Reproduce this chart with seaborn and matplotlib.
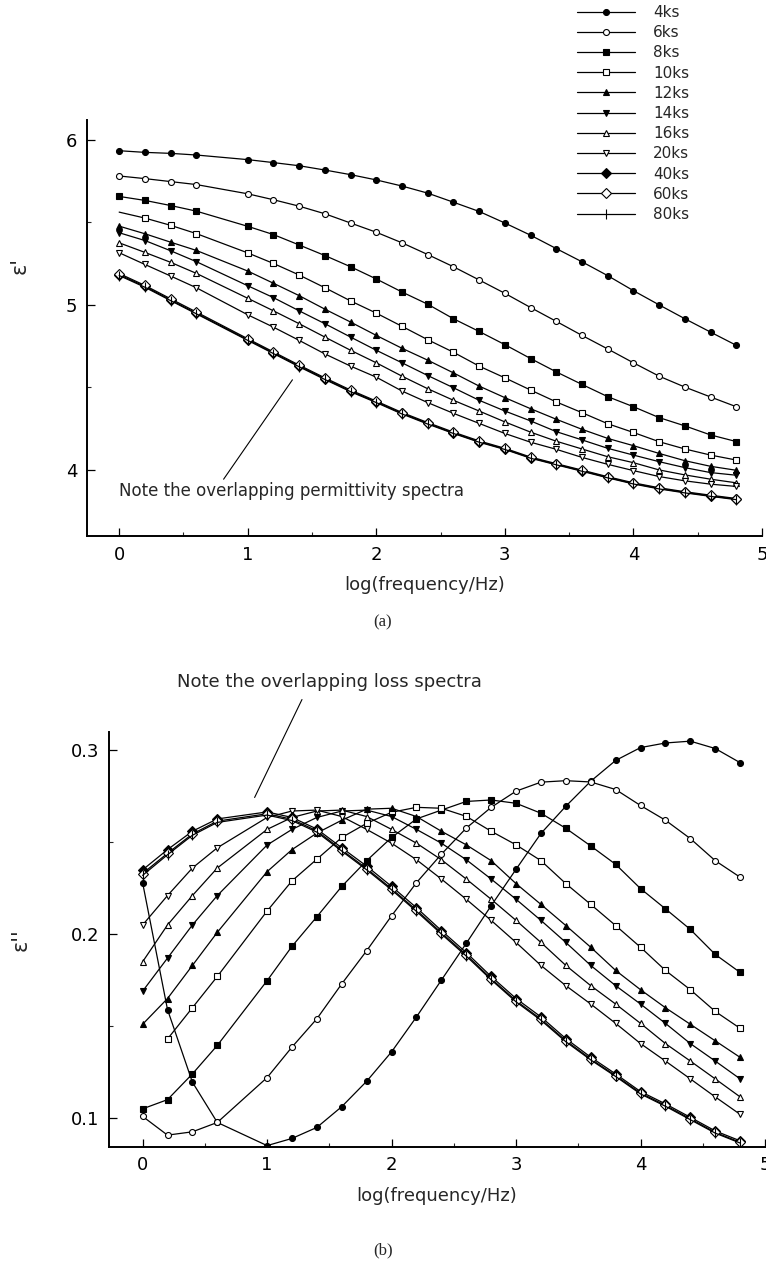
import seaborn as sns
import matplotlib.pyplot as plt
from matplotlib.ticker import MultipleLocator

# log(frequency/Hz) grid of the measurements (no point at 0.8)
logf = [0, 0.2, 0.4, 0.6, 1.0, 1.2, 1.4, 1.6, 1.8, 2.0, 2.2, 2.4,
        2.6, 2.8, 3.0, 3.2, 3.4, 3.6, 3.8, 4.0, 4.2, 4.4, 4.6, 4.8]
labels = ['4ks', '6ks', '8ks', '10ks', '12ks', '14ks', '16ks', '20ks', '40ks', '60ks', '80ks']

# permittivity eps'
eps1_4ks = [5.934, 5.924, 5.918, 5.908, 5.880, 5.862, 5.843, 5.817, 5.789, 5.757, 5.720, 5.677,
            5.622, 5.566, 5.496, 5.422, 5.341, 5.261, 5.177, 5.086, 5.000, 4.916, 4.835, 4.755]
eps1_6ks = [5.781, 5.765, 5.747, 5.729, 5.673, 5.637, 5.598, 5.552, 5.496, 5.440, 5.376, 5.305,
            5.231, 5.151, 5.070, 4.984, 4.900, 4.815, 4.733, 4.649, 4.568, 4.502, 4.442, 4.383]
eps1_8ks = [5.657, 5.633, 5.602, 5.568, 5.476, 5.426, 5.363, 5.299, 5.231, 5.157, 5.078, 5.004,
            4.916, 4.839, 4.759, 4.675, 4.594, 4.518, 4.444, 4.383, 4.317, 4.267, 4.212, 4.172]
eps1_10ks = [5.562, 5.526, 5.482, 5.432, 5.315, 5.251, 5.181, 5.104, 5.024, 4.950, 4.870, 4.789,
             4.713, 4.629, 4.558, 4.484, 4.412, 4.347, 4.280, 4.227, 4.171, 4.127, 4.090, 4.060]
eps1_12ks = [5.477, 5.431, 5.380, 5.330, 5.205, 5.131, 5.056, 4.974, 4.896, 4.815, 4.737, 4.665,
             4.588, 4.508, 4.438, 4.371, 4.307, 4.246, 4.191, 4.147, 4.100, 4.056, 4.022, 3.998]
eps1_14ks = [5.437, 5.390, 5.328, 5.262, 5.116, 5.044, 4.964, 4.886, 4.805, 4.725, 4.649, 4.572,
             4.498, 4.422, 4.357, 4.297, 4.232, 4.182, 4.131, 4.090, 4.050, 4.014, 3.984, 3.968]
eps1_16ks = [5.376, 5.318, 5.258, 5.191, 5.040, 4.964, 4.886, 4.805, 4.725, 4.649, 4.568, 4.492,
             4.422, 4.357, 4.291, 4.229, 4.174, 4.127, 4.080, 4.044, 4.000, 3.970, 3.944, 3.922]
eps1_20ks = [5.316, 5.245, 5.175, 5.104, 4.940, 4.865, 4.785, 4.703, 4.629, 4.562, 4.478, 4.408,
             4.343, 4.282, 4.221, 4.168, 4.125, 4.076, 4.034, 3.996, 3.960, 3.934, 3.914, 3.900]
eps1_40ks = [5.183, 5.112, 5.030, 4.950, 4.789, 4.709, 4.629, 4.552, 4.478, 4.412, 4.343, 4.282,
             4.224, 4.171, 4.127, 4.074, 4.034, 3.995, 3.955, 3.918, 3.888, 3.864, 3.843, 3.823]
eps1_60ks = [5.190, 5.118, 5.037, 4.957, 4.795, 4.715, 4.635, 4.558, 4.484, 4.417, 4.348, 4.287,
             4.229, 4.176, 4.131, 4.078, 4.038, 3.999, 3.959, 3.922, 3.892, 3.868, 3.847, 3.827]
eps1_80ks = [5.178, 5.107, 5.026, 4.946, 4.785, 4.705, 4.625, 4.548, 4.474, 4.408, 4.339, 4.278,
             4.221, 4.168, 4.124, 4.071, 4.031, 3.992, 3.952, 3.915, 3.885, 3.861, 3.840, 3.820]

# loss eps''  (10ks has no point at logf = 0)
eps2_4ks = [0.228, 0.159, 0.1195, 0.0976, 0.0850, 0.0889, 0.0949, 0.1062, 0.120, 0.136, 0.155, 0.175,
            0.195, 0.2155, 0.2353, 0.2548, 0.2696, 0.2832, 0.2945, 0.3015, 0.304, 0.305, 0.301, 0.2933]
eps2_6ks = [0.1009, 0.0907, 0.0925, 0.0976, 0.122, 0.1386, 0.154, 0.173, 0.191, 0.210, 0.228, 0.2435,
            0.2577, 0.269, 0.2778, 0.2827, 0.2835, 0.2828, 0.2787, 0.270, 0.262, 0.252, 0.240, 0.231]
eps2_8ks = [0.105, 0.110, 0.124, 0.1395, 0.1747, 0.1934, 0.2095, 0.226, 0.240, 0.2526, 0.2627, 0.2675,
            0.2722, 0.273, 0.2712, 0.2658, 0.2576, 0.248, 0.238, 0.2248, 0.2138, 0.2026, 0.189, 0.1792]
eps2_10ks = [0.143, 0.160, 0.177, 0.2126, 0.229, 0.2408, 0.2526, 0.2603, 0.2663, 0.269, 0.2685,
             0.2641, 0.256, 0.2486, 0.240, 0.2275, 0.2162, 0.2047, 0.1929, 0.1803, 0.1698, 0.158, 0.1488]
eps2_12ks = [0.151, 0.165, 0.183, 0.201, 0.234, 0.246, 0.255, 0.262, 0.268, 0.2685, 0.264, 0.256,
             0.2486, 0.240, 0.2275, 0.2162, 0.2047, 0.1929, 0.1803, 0.1698, 0.160, 0.151, 0.142, 0.133]
eps2_14ks = [0.169, 0.187, 0.205, 0.221, 0.2485, 0.257, 0.2635, 0.267, 0.2675, 0.264, 0.257, 0.2495,
             0.2405, 0.230, 0.219, 0.2075, 0.1955, 0.183, 0.172, 0.162, 0.1515, 0.1405, 0.131, 0.1213]
eps2_16ks = [0.185, 0.205, 0.221, 0.236, 0.257, 0.2635, 0.267, 0.2675, 0.264, 0.257, 0.2495, 0.2405,
             0.230, 0.219, 0.2075, 0.1955, 0.183, 0.172, 0.162, 0.1515, 0.1405, 0.131, 0.1213, 0.1115]
eps2_20ks = [0.205, 0.221, 0.236, 0.247, 0.2635, 0.267, 0.2675, 0.264, 0.257, 0.2495, 0.2405, 0.230,
             0.219, 0.2075, 0.1955, 0.183, 0.172, 0.162, 0.1515, 0.1405, 0.131, 0.1213, 0.1115, 0.102]
eps2_40ks = [0.235, 0.246, 0.256, 0.2627, 0.2665, 0.2635, 0.2572, 0.247, 0.237, 0.226, 0.2144, 0.202,
             0.190, 0.177, 0.165, 0.155, 0.1432, 0.1331, 0.124, 0.1144, 0.1077, 0.1004, 0.093, 0.0876]
eps2_60ks = [0.233, 0.244, 0.2545, 0.2615, 0.2655, 0.2625, 0.2562, 0.2458, 0.2357, 0.2247, 0.2131, 0.2008,
             0.1888, 0.1758, 0.1638, 0.1538, 0.1421, 0.1321, 0.1231, 0.1136, 0.1069, 0.0996, 0.0922, 0.0868]
eps2_80ks = [0.232, 0.2432, 0.2538, 0.2608, 0.2648, 0.2618, 0.2555, 0.2452, 0.235, 0.2241, 0.2124, 0.2001,
             0.1881, 0.1752, 0.1632, 0.1532, 0.1415, 0.1316, 0.1226, 0.1131, 0.1064, 0.0991, 0.0918, 0.0864]

eps1 = [eps1_4ks, eps1_6ks, eps1_8ks, eps1_10ks, eps1_12ks, eps1_14ks,
        eps1_16ks, eps1_20ks, eps1_40ks, eps1_60ks, eps1_80ks]
eps2 = [eps2_4ks, eps2_6ks, eps2_8ks, eps2_10ks, eps2_12ks, eps2_14ks,
        eps2_16ks, eps2_20ks, eps2_40ks, eps2_60ks, eps2_80ks]

markers = ['o', 'o', 's', 's', '^', 'v', '^', 'v', 'D', 'D', '|']
filled = [True, False, True, False, True, True, False, False, True, False, True]
msize = [4.3, 4.3, 4.3, 4.3, 4.8, 4.8, 4.8, 4.8, 5.2, 5.2, 7]

sns.set_style('ticks')
plt.rcParams['font.family'] = ['DejaVu Sans']

fig = plt.figure(figsize=(7.66, 12.62), dpi=100)
ax1 = fig.add_axes([0.1136, 0.5753, 0.8812, 0.3296])
ax2 = fig.add_axes([0.1423, 0.0915, 0.8564, 0.3285])


def draw(ax, series, top):
    for i, y in enumerate(series):
        x = logf[len(logf) - len(y):]
        kw = {}
        if top and labels[i] == '10ks':
            kw['markevery'] = list(range(1, len(y)))
        sns.lineplot(x=x, y=y, ax=ax, color='black', lw=0.9,
                     marker=markers[i], markersize=msize[i],
                     markerfacecolor='black' if filled[i] else 'white',
                     markeredgecolor='black', markeredgewidth=0.8,
                     label=labels[i], legend=False, **kw)


draw(ax1, eps1, True)
draw(ax2, eps2, False)

for ax in (ax1, ax2):
    sns.despine(ax=ax)
    for s in ('left', 'bottom'):
        ax.spines[s].set_linewidth(1.4)
        ax.spines[s].set_color('black')
    ax.set_xlim(-0.25, 5.0)
    ax.xaxis.set_major_locator(MultipleLocator(1))
    ax.xaxis.set_minor_locator(MultipleLocator(0.5))
    ax.tick_params(which='major', direction='in', length=6, width=0.9,
                   labelsize=13, pad=7, colors='black')
    ax.tick_params(which='minor', direction='in', length=3, width=0.8)
    ax.set_xlabel('log(frequency/Hz)', fontsize=13, labelpad=9)

ax1.set_ylim(3.6, 6.12)
ax1.yaxis.set_major_locator(MultipleLocator(1))
ax1.yaxis.set_minor_locator(MultipleLocator(0.5))
ax1.set_ylabel("ε'", fontsize=15)
ax1.yaxis.set_label_coords(-0.085, 0.65)

ax2.set_xlim(-0.27, 5.0)
ax2.set_ylim(0.0845, 0.31)
ax2.yaxis.set_major_locator(MultipleLocator(0.1))
ax2.yaxis.set_minor_locator(MultipleLocator(0.05))
ax2.set_ylabel("ε''", fontsize=15)
ax2.yaxis.set_label_coords(-0.12, 0.5)

# annotations
ax1.text(0.0, 3.87, 'Note the overlapping permittivity spectra', fontsize=12, va='center')
ax1.annotate('', xy=(1.36, 4.56), xytext=(0.8, 3.93),
             arrowprops=dict(arrowstyle='-', lw=0.8, color='black'))
ax2.text(0.28, 0.337, 'Note the overlapping loss spectra', fontsize=13, va='center')
ax2.annotate('', xy=(0.89, 0.273), xytext=(1.29, 0.329),
             arrowprops=dict(arrowstyle='-', lw=0.8, color='black'), annotation_clip=False)

handles, labs = ax1.get_legend_handles_labels()
fig.legend(handles, labs, loc='upper left', bbox_to_anchor=(0.753, 0.996),
           frameon=False, fontsize=11, handlelength=3.8, handletextpad=1.2,
           labelspacing=0.34, borderpad=0, borderaxespad=0, numpoints=1)

fig.text(0.5, 1 - 622 / 1262, '(a)', family='Liberation Serif', fontsize=12, ha='center', va='center')
fig.text(0.5, 1 - 1250 / 1262, '(b)', family='Liberation Serif', fontsize=12, ha='center', va='center')

fig.savefig('out.png', dpi=100)
